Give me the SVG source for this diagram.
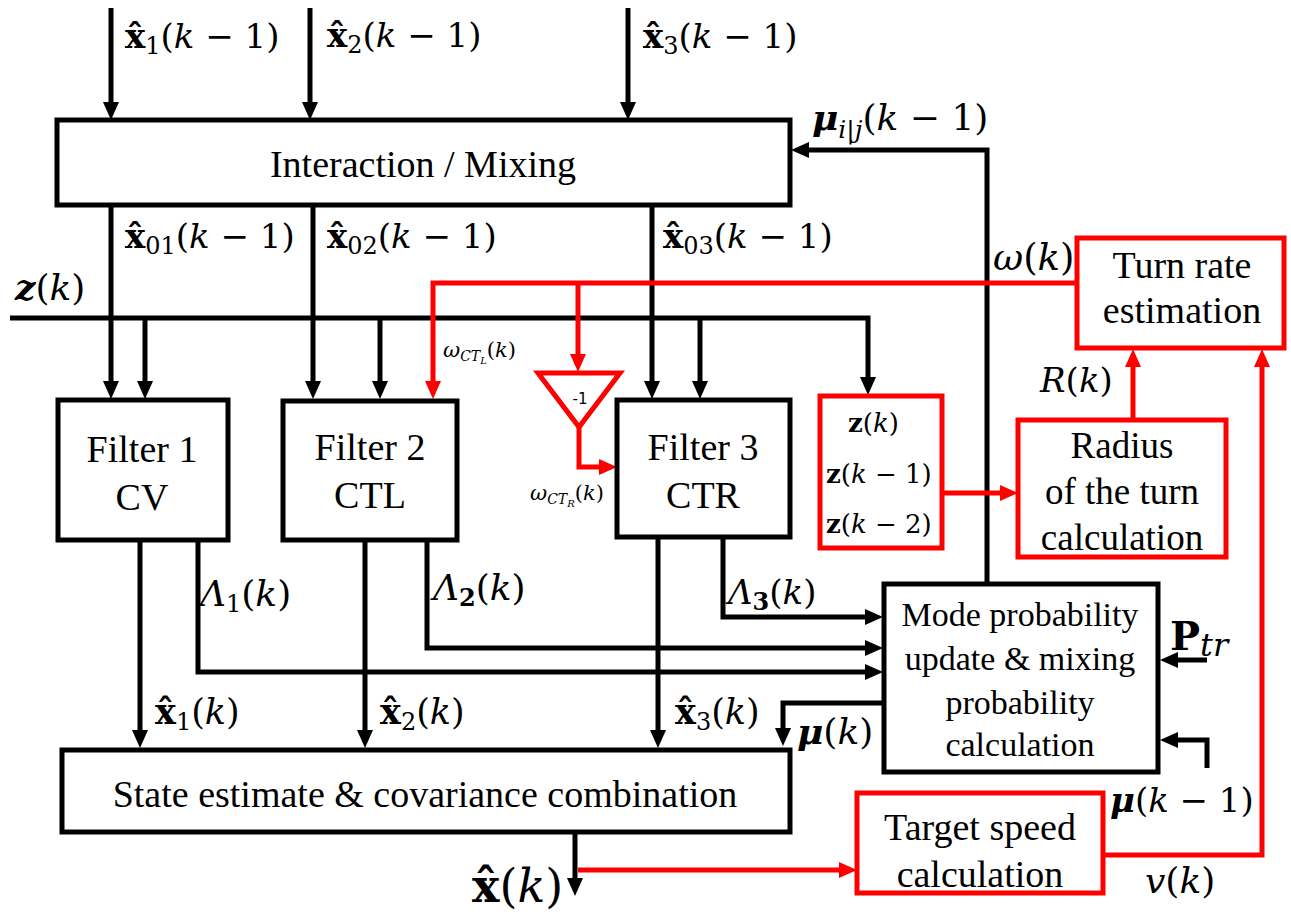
<svg xmlns="http://www.w3.org/2000/svg" width="1291" height="917" viewBox="0 0 1291 917">
<defs>
<marker id="ab" markerWidth="18" markerHeight="16" refX="1" refY="8" orient="auto" markerUnits="userSpaceOnUse"><path d="M0,0 L18,8 L0,16 z" fill="#000"/></marker>
<marker id="ar" markerWidth="18" markerHeight="16" refX="1" refY="8" orient="auto" markerUnits="userSpaceOnUse"><path d="M0,0 L18,8 L0,16 z" fill="#ff0000"/></marker>
<style>
.bk{fill:#fff;stroke:#000;stroke-width:5}
.rd{fill:#fff;stroke:#ff0000;stroke-width:5}
.cb{fill:none;stroke:#000;stroke-width:5}
.cr{fill:none;stroke:#ff0000;stroke-width:5}
.t{fill:#000;text-anchor:middle}
.m{fill:#000}
.b{font-weight:bold}
.i{font-style:italic}
</style>
</defs>

<g id="connectors">
<path class="cb" d="M111,8 V103" marker-end="url(#ab)"/>
<path class="cb" d="M310,8 V103" marker-end="url(#ab)"/>
<path class="cb" d="M628,8 V103" marker-end="url(#ab)"/>
<path class="cb" d="M111,205 V382" marker-end="url(#ab)"/>
<path class="cb" d="M313,205 V382" marker-end="url(#ab)"/>
<path class="cb" d="M652,205 V382" marker-end="url(#ab)"/>
<path class="cb" d="M10,318 H868 V378" marker-end="url(#ab)"/>
<path class="cb" d="M145,318 V382" marker-end="url(#ab)"/>
<path class="cb" d="M380,318 V382" marker-end="url(#ab)"/>
<path class="cb" d="M700,318 V382" marker-end="url(#ab)"/>
<path class="cb" d="M987,584 V150 H808" marker-end="url(#ab)"/>
<path class="cb" d="M140,540 V731" marker-end="url(#ab)"/>
<path class="cb" d="M365,540 V731" marker-end="url(#ab)"/>
<path class="cb" d="M658,537 V731" marker-end="url(#ab)"/>
<path class="cb" d="M198,540 V672 H866" marker-end="url(#ab)"/>
<path class="cb" d="M427,540 V648 H866" marker-end="url(#ab)"/>
<path class="cb" d="M723,537 V617 H866" marker-end="url(#ab)"/>
<path class="cb" d="M884,703 H783 V729" marker-end="url(#ab)"/>
<path class="cb" d="M1207,660 H1177" marker-end="url(#ab)"/>
<path class="cb" d="M1207,768 V740 H1177" marker-end="url(#ab)"/>
<path class="cb" d="M575,832 V879" marker-end="url(#ab)"/>
<path class="cr" d="M1077,283 H433 V382" marker-end="url(#ar)"/>
<path class="cr" d="M578,283 V355" marker-end="url(#ar)"/>
<path class="cr" d="M579,425 V467 H600" marker-end="url(#ar)"/>
<path class="cr" d="M942,493 H1001" marker-end="url(#ar)"/>
<path class="cr" d="M1133,420 V366" marker-end="url(#ar)"/>
<path class="cr" d="M1103,855 H1262 V366" marker-end="url(#ar)"/>
<path class="cr" d="M578,870 H840" marker-end="url(#ar)"/>
</g>

<g font-family="Liberation Serif, Times New Roman, serif" font-size="38">
<g id="interaction"><rect class="bk" x="57" y="120" width="733" height="85"/><text class="t" x="423" y="177">Interaction / Mixing</text></g>
<g id="filter1"><rect class="bk" x="58" y="400" width="170" height="140"/><text class="t" x="142" y="462">Filter 1</text><text class="t" x="142" y="510">CV</text></g>
<g id="filter2"><rect class="bk" x="283" y="401" width="174" height="139"/><text class="t" x="370" y="460">Filter 2</text><text class="t" x="370" y="508">CTL</text></g>
<g id="filter3"><rect class="bk" x="617" y="400" width="173" height="137"/><text class="t" x="703" y="460">Filter 3</text><text class="t" x="703" y="508">CTR</text></g>
<g id="gain"><polygon class="rd" points="538,373 620,373 579,427"/><text x="580" y="404" font-family="DejaVu Sans, sans-serif" font-size="15" text-anchor="middle">-1</text></g>
<g id="zbox" font-family="DejaVu Serif, serif" font-size="26"><rect class="rd" x="820" y="396" width="122" height="152"/>
<text class="m" x="848" y="432"><tspan class="b">z</tspan>(<tspan class="i">k</tspan>)</text>
<text class="m" x="826" y="483"><tspan class="b">z</tspan>(<tspan class="i">k</tspan> − 1)</text>
<text class="m" x="826" y="533"><tspan class="b">z</tspan>(<tspan class="i">k</tspan> − 2)</text></g>
<g id="radius"><rect class="rd" x="1018" y="420" width="208" height="137"/><text class="t" x="1122" y="458" font-size="37">Radius</text><text class="t" x="1122" y="504" font-size="37">of the turn</text><text class="t" x="1122" y="550" font-size="37">calculation</text></g>
<g id="turnrate"><rect class="rd" x="1077" y="238" width="207" height="110"/><text class="t" x="1182" y="278">Turn rate</text><text class="t" x="1182" y="323">estimation</text></g>
<g id="modeprob" font-size="34"><rect class="bk" x="884" y="584" width="274" height="188"/>
<text class="t" x="1020" y="626">Mode probability</text>
<text class="t" x="1020" y="670">update &amp; mixing</text>
<text class="t" x="1020" y="714">probability</text>
<text class="t" x="1020" y="756">calculation</text></g>
<g id="combination"><rect class="bk" x="62" y="750" width="728" height="82"/><text class="t" x="425" y="807">State estimate &amp; covariance combination</text></g>
<g id="targetspeed"><rect class="rd" x="857" y="793" width="246" height="100"/><text class="t" x="980" y="840">Target speed</text><text class="t" x="980" y="887">calculation</text></g>
</g>

<g id="labels" font-family="DejaVu Serif, serif" font-size="34">
<text class="m" x="125" y="48"><tspan class="b">x̂</tspan><tspan font-size="24" dy="6">1</tspan><tspan dy="-6">(</tspan><tspan class="i">k</tspan> − 1)</text>
<text class="m" x="327" y="47"><tspan class="b">x̂</tspan><tspan font-size="24" dy="6">2</tspan><tspan dy="-6">(</tspan><tspan class="i">k</tspan> − 1)</text>
<text class="m" x="643" y="48"><tspan class="b">x̂</tspan><tspan font-size="24" dy="6">3</tspan><tspan dy="-6">(</tspan><tspan class="i">k</tspan> − 1)</text>
<text class="m" x="812" y="130" font-size="36"><tspan class="b i">μ</tspan><tspan class="i" font-size="25" dy="8">i|j</tspan><tspan dy="-8">(</tspan><tspan class="i">k</tspan> − 1)</text>
<text class="m" x="125" y="248"><tspan class="b">x̂</tspan><tspan font-size="24" dy="6">01</tspan><tspan dy="-6">(</tspan><tspan class="i">k</tspan> − 1)</text>
<text class="m" x="327" y="248"><tspan class="b">x̂</tspan><tspan font-size="24" dy="6">02</tspan><tspan dy="-6">(</tspan><tspan class="i">k</tspan> − 1)</text>
<text class="m" x="663" y="248"><tspan class="b">x̂</tspan><tspan font-size="24" dy="6">03</tspan><tspan dy="-6">(</tspan><tspan class="i">k</tspan> − 1)</text>
<text class="m" x="15" y="300" font-size="36"><tspan class="b i">z</tspan>(<tspan class="i">k</tspan>)</text>
<text class="m" x="993" y="270" font-size="37"><tspan class="i">ω</tspan>(<tspan class="i">k</tspan>)</text>
<text class="m" x="443" y="357" font-size="21"><tspan class="i">ω</tspan><tspan class="i" font-size="14" dy="4">CT</tspan><tspan class="i" font-size="10" dy="3">L</tspan><tspan dy="-7">(</tspan><tspan class="i">k</tspan>)</text>
<text class="m" x="530" y="500" font-size="21"><tspan class="i">ω</tspan><tspan class="i" font-size="14" dy="4">CT</tspan><tspan class="i" font-size="10" dy="3">R</tspan><tspan dy="-7">(</tspan><tspan class="i">k</tspan>)</text>
<text class="m" x="1040" y="392"><tspan class="i">R</tspan>(<tspan class="i">k</tspan>)</text>
<text class="m" x="200" y="606" font-size="36"><tspan class="i">Λ</tspan><tspan font-size="24" dy="6">1</tspan><tspan dy="-6">(</tspan><tspan class="i">k</tspan>)</text>
<text class="m" x="433" y="600" font-size="36"><tspan class="i">Λ</tspan><tspan class="b" font-size="24" dy="6">2</tspan><tspan dy="-6">(</tspan><tspan class="i">k</tspan>)</text>
<text class="m" x="728" y="604"><tspan class="i">Λ</tspan><tspan class="b" font-size="24" dy="6">3</tspan><tspan dy="-6">(</tspan><tspan class="i">k</tspan>)</text>
<text class="m" x="155" y="724" font-size="35"><tspan class="b">x̂</tspan><tspan font-size="24" dy="6">1</tspan><tspan dy="-6">(</tspan><tspan class="i">k</tspan>)</text>
<text class="m" x="380" y="724" font-size="35"><tspan class="b">x̂</tspan><tspan font-size="24" dy="6">2</tspan><tspan dy="-6">(</tspan><tspan class="i">k</tspan>)</text>
<text class="m" x="675" y="724" font-size="35"><tspan class="b">x̂</tspan><tspan font-size="24" dy="6">3</tspan><tspan dy="-6">(</tspan><tspan class="i">k</tspan>)</text>
<text class="m" x="797" y="744" font-size="36"><tspan class="b i">μ</tspan>(<tspan class="i">k</tspan>)</text>
<text class="m" x="1170" y="650" font-size="40"><tspan class="b">P</tspan><tspan class="i" font-size="32" dy="6">tr</tspan></text>
<text class="m" x="1110" y="812"><tspan class="b i">μ</tspan>(<tspan class="i">k</tspan> − 1)</text>
<text class="m" x="472" y="902" font-size="46"><tspan class="b">x̂</tspan>(<tspan class="i">k</tspan>)</text>
<text class="m" x="1145" y="893" font-size="36"><tspan class="i">v</tspan>(<tspan class="i">k</tspan>)</text>
</g>
</svg>
